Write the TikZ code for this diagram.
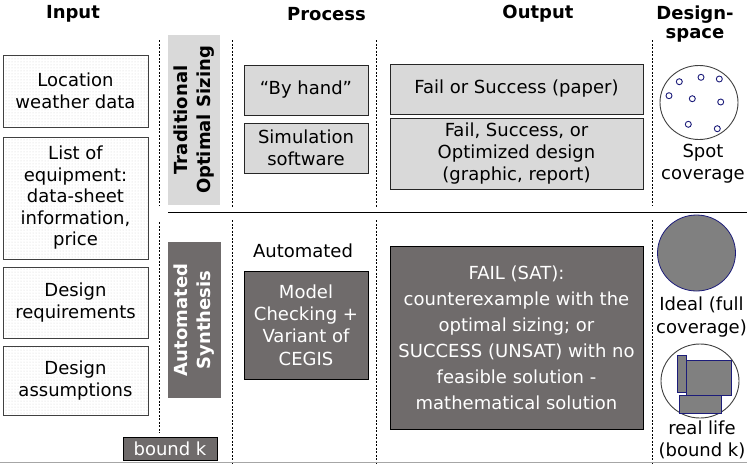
\documentclass[tikz,border=0pt]{standalone}
\usepackage{fontspec}
\setmainfont{DejaVu Sans}
\usetikzlibrary{patterns}
\definecolor{darkbox}{HTML}{6F6B6B}
\definecolor{lightbox}{HTML}{D9D9D9}
\definecolor{navyc}{HTML}{1C1C7A}
\definecolor{shapegray}{HTML}{808080}
\begin{document}
\begin{tikzpicture}[x=1pt,y=-1pt,
  every node/.style={font=\fontsize{18}{22.3}\selectfont, inner sep=0pt, align=center},
  hdr/.style={font=\bfseries\fontsize{18}{18.5}\selectfont},
  inbox/.style={draw=black!75, line width=0.9pt, pattern=dots, pattern color=black!18, minimum width=145pt},
  lbox/.style={draw=black!85, line width=0.9pt, fill=lightbox},
  dbox/.style={draw=black, line width=0.9pt, fill=darkbox, text=white},
  sidelabel/.style={rotate=90, font=\bfseries\fontsize{18}{23}\selectfont},
  sep/.style={dash pattern=on 2pt off 1.5pt, line width=0.8pt},
  dot/.style={circle, draw=navyc, fill=white, line width=0.9pt, minimum size=6pt},
  blob/.style={draw=navyc, fill=shapegray, line width=0.8pt}
]
\useasboundingbox (0,0) rectangle (747,464);
% headers
\node[hdr] (hin) at (73,14) {Input};
\node[hdr] (hpr) at (326.5,14) {Process};
\node[hdr] (hout) at (538,14) {Output};
\node[hdr] (hds) at (695,24) {Design-\\space};
% separators
\draw[sep] (159,40) -- (159,205);
\draw[sep] (159,222) -- (159,433);
\draw[sep] (232.5,40) -- (232.5,207);
\draw[sep] (232.5,220) -- (232.5,464);
\draw[sep] (376.5,40) -- (376.5,207);
\draw[sep] (376.5,220) -- (376.5,464);
\draw[sep] (652,40) -- (652,205);
\draw[sep] (652,220) -- (652,464);
\draw[line width=1.1pt] (168,212.5) -- (747,212.5);
\draw[black!35, line width=1pt] (0,462.5) -- (747,462.5);
% input boxes
\node[inbox, minimum height=72pt] (loc) at (75.5,91) {Location\\weather data};
\node[inbox, minimum height=122pt, font=\fontsize{18}{21.5}\selectfont] (equip) at (75.5,198) {List of\\equipment:\\data-sheet\\information,\\price};
\node[inbox, minimum height=71pt] (req) at (75.5,302.5) {Design\\requirements};
\node[inbox, minimum height=69pt] (ass) at (75.5,380.5) {Design\\assumptions};
% side labels
\node[fill=lightbox, minimum width=170pt, minimum height=52pt, sidelabel] (trad) at (194,120) {Traditional\\Optimal Sizing};
\node[fill=darkbox, text=white, minimum width=156pt, minimum height=53pt, sidelabel] (auto) at (194.5,320) {Automated\\Synthesis};
% process
\node[lbox, minimum width=124pt, minimum height=50pt] (hand) at (306,90) {“By hand”};
\node[lbox, minimum width=124pt, minimum height=50pt] (sim) at (306,148) {Simulation\\software};
\node (autolbl) at (303,251) {Automated};
\node[dbox, minimum width=124pt, minimum height=108pt] (mc) at (306,325) {Model\\Checking +\\Variant of\\CEGIS};
% output
\node[lbox, minimum width=253pt, minimum height=50pt] (o1) at (516.5,89) {Fail or Success (paper)};
\node[lbox, minimum width=253pt, minimum height=71pt] (o2) at (516.5,153.5) {Fail, Success, or\\Optimized design\\(graphic, report)};
\node[dbox, minimum width=253pt, minimum height=183pt, font=\fontsize{18}{26}\selectfont] (o3) at (516.5,337.5) {FAIL (SAT):\\counterexample with the\\optimal sizing; or\\SUCCESS (UNSAT) with no\\feasible solution -\\mathematical solution};
% bound k
\node[dbox, minimum width=94pt, minimum height=23pt] (bk) at (170,448.5) {bound k};
% design space: spot
\draw[black!75, line width=0.9pt] (699,102.5) ellipse [x radius=39, y radius=37];
\foreach \p/\q [count=\i] in {679.3/81.7, 701/77.3, 719.3/79, 669/95.7, 692.3/98.7, 720.7/102, 688.3/124.3, 717.3/128.7}
  \node[dot] (d\i) at (\p,\q) {};
\node (spot) at (703,164) {Spot\\coverage};
% ideal
\draw[blob] (696.5,253) ellipse [x radius=39, y radius=38];
\node (ideal) at (701.5,317) {Ideal (full\\coverage)};
% real life
\draw[black!75, line width=0.9pt, fill=white] (700,381) ellipse [x radius=39, y radius=37];
\draw[blob] (677.3,355.7) rectangle (686.7,392.7);
\draw[blob] (686.7,360) rectangle (731.7,395);
\draw[blob] (679.3,395) rectangle (721,413.3);
\node (real) at (702,440) {real life\\(bound k)};
\end{tikzpicture}
\end{document}
